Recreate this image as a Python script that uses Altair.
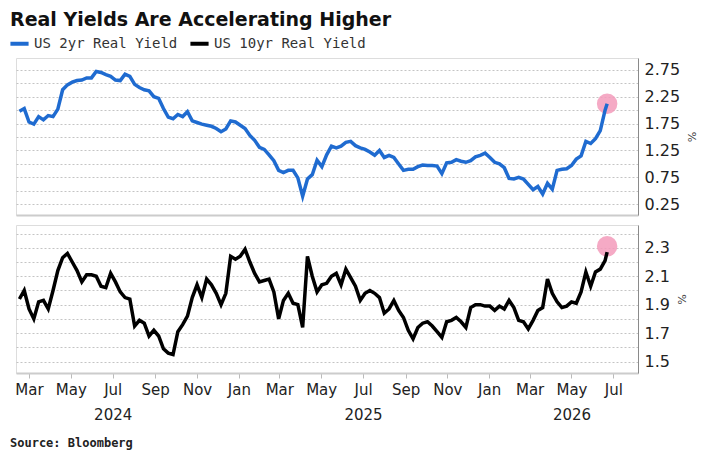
import altair as alt
import pandas as pd

chart_title = "Real Yields Are Accelerating Higher"
source_text = "Source: Bloomberg"
series_names = ["US 2yr Real Yield", "US 10yr Real Yield"]
series_colors = ["#1f6bd0", "#000000"]

# weekly observations (Fridays) from 2024-02-16, plus the last print
week_start = "2024-02-16"
n_weeks = 123
last_date = "2026-06-22"

us2y = [
    1.98, 2.03, 1.78, 1.74, 1.88, 1.82, 1.90, 1.88, 2.02, 2.38,
    2.47, 2.52, 2.55, 2.56, 2.60, 2.60, 2.72, 2.70, 2.66, 2.63,
    2.56, 2.55, 2.67, 2.63, 2.48, 2.42, 2.38, 2.36, 2.25, 2.22,
    2.03, 1.87, 1.84, 1.92, 1.88, 1.97, 1.80, 1.77, 1.74, 1.72,
    1.70, 1.66, 1.60, 1.65, 1.80, 1.78, 1.72, 1.66, 1.53, 1.44,
    1.31, 1.27, 1.17, 1.06, 0.88, 0.84, 0.88, 0.88, 0.74, 0.40,
    0.72, 0.80, 1.07, 0.95, 1.17, 1.33, 1.30, 1.33, 1.40, 1.42,
    1.34, 1.30, 1.27, 1.22, 1.16, 1.25, 1.12, 1.16, 1.12, 1.00,
    0.88, 0.90, 0.90, 0.95, 0.98, 0.97, 0.97, 0.96, 0.82, 1.02,
    1.03, 1.08, 1.05, 1.03, 1.06, 1.13, 1.16, 1.20, 1.12, 1.03,
    1.00, 0.93, 0.73, 0.72, 0.75, 0.72, 0.62, 0.52, 0.58, 0.44,
    0.64, 0.53, 0.88, 0.90, 0.91, 0.97, 1.09, 1.15, 1.42, 1.38,
    1.47, 1.62, 2.00,
    2.12,
]

us10y = [
    1.94, 2.00, 1.87, 1.80, 1.92, 1.93, 1.87, 2.00, 2.14, 2.23,
    2.26, 2.20, 2.14, 2.06, 2.11, 2.11, 2.10, 2.03, 2.02, 2.12,
    2.06, 1.99, 1.95, 1.94, 1.75, 1.79, 1.77, 1.68, 1.72, 1.68,
    1.59, 1.56, 1.55, 1.71, 1.76, 1.82, 1.95, 2.04, 1.95, 2.08,
    2.04, 1.98, 1.90, 1.98, 2.24, 2.22, 2.24, 2.29, 2.20, 2.12,
    2.06, 2.07, 2.08, 1.99, 1.80, 1.93, 1.98, 1.91, 1.90, 1.74,
    2.24, 2.10, 1.99, 2.04, 2.05, 2.10, 2.12, 2.04, 2.15, 2.09,
    2.03, 1.93, 1.98, 2.00, 1.98, 1.95, 1.84, 1.87, 1.93, 1.86,
    1.81, 1.72, 1.66, 1.74, 1.77, 1.78, 1.75, 1.71, 1.67, 1.78,
    1.79, 1.81, 1.78, 1.74, 1.88, 1.90, 1.90, 1.89, 1.89, 1.86,
    1.89, 1.87, 1.93, 1.88, 1.79, 1.78, 1.73, 1.79, 1.86, 1.88,
    2.08, 1.98, 1.92, 1.88, 1.89, 1.92, 1.91, 1.99, 2.13, 2.03,
    2.13, 2.15, 2.21,
    2.27,
]

highlight_values = [2.12, 2.31]

x_tick_months = [(2024, 3), (2024, 5), (2024, 7), (2024, 9), (2024, 11),
                 (2025, 1), (2025, 3), (2025, 5), (2025, 7), (2025, 9), (2025, 11),
                 (2026, 1), (2026, 3), (2026, 5), (2026, 7)]
x_domain = [(2024, 2, 11), (2026, 8, 6)]
top_ticks = [0.25, 0.5, 0.75, 1.0, 1.25, 1.5, 1.75, 2.0, 2.25, 2.5, 2.75]
top_domain = [0.05, 2.97]
bottom_ticks = [1.5, 1.6, 1.7, 1.8, 1.9, 2.0, 2.1, 2.2, 2.3, 2.4]
bottom_domain = [1.42, 2.46]

dates = list(pd.date_range(week_start, periods=n_weeks, freq="7D")) + [pd.Timestamp(last_date)]
df2 = pd.DataFrame({"date": dates, "value": us2y, "series": series_names[0]})
df10 = pd.DataFrame({"date": dates, "value": us10y, "series": series_names[1]})
hl2 = pd.DataFrame({"date": [pd.Timestamp(last_date)], "value": [highlight_values[0]]})
hl10 = pd.DataFrame({"date": [pd.Timestamp(last_date)], "value": [highlight_values[1]]})
src = pd.DataFrame({"t": [source_text]})

W = 622
H_TOP = 157
H_BOT = 148

xscale = alt.Scale(domain=[alt.DateTime(year=y, month=m, date=d) for (y, m, d) in x_domain])
color_scale = alt.Scale(domain=series_names, range=series_colors)
legend = alt.Legend(orient="none", legendX=-8, legendY=-26, direction="horizontal",
                    title=None, symbolType="stroke", symbolStrokeWidth=4, symbolSize=330,
                    labelFont="DejaVu Sans Mono", labelFontSize=14, labelColor="#333333",
                    columnPadding=4, padding=0, labelOffset=3)

grid_kw = dict(grid=True, gridDash=[2, 2], gridColor="#c4c4c4", gridWidth=1)
yaxis_kw = dict(orient="right", ticks=False, domain=True, domainColor="#8a8a8a", domainWidth=1,
                labelFont="DejaVu Sans", labelFontSize=16, labelColor="#222222", labelPadding=6,
                title="%", titleFont="DejaVu Sans", titleFontSize=11, titleFontWeight="normal",
                titleColor="#444444", titleAngle=90, titlePadding=6, labelOverlap=False, **grid_kw)

x_top = alt.X("date:T", scale=xscale,
              axis=alt.Axis(labels=False, ticks=False, grid=False, domainColor="#cccccc",
                            domainWidth=2, title=None))
y_top = alt.Y("value:Q", scale=alt.Scale(domain=top_domain, nice=False, zero=False),
              axis=alt.Axis(values=top_ticks,
                            labelExpr="round(datum.value*100) % 50 == 25 ? format(datum.value, '.2f') : ''",
                            **yaxis_kw))

month_label_expr = (
    "(month(datum.value) == 6 && year(datum.value) < 2026) || (month(datum.value) == 4 && year(datum.value) == 2026)"
    " ? [timeFormat(datum.value, '%b'), timeFormat(datum.value, '%Y')] : timeFormat(datum.value, '%b')"
)
x_bot = alt.X("date:T", scale=xscale,
              axis=alt.Axis(values=[alt.DateTime(year=y, month=m, date=1) for (y, m) in x_tick_months],
                            labelExpr=month_label_expr, labelLineHeight=25,
                            labelFont="DejaVu Sans", labelFontSize=15, labelColor="#222222",
                            labelPadding=4, labelOverlap=False, labelFlush=False,
                            ticks=True, tickColor="#bbbbbb", tickSize=5, grid=False,
                            domainColor="#cccccc", domainWidth=2, title=None))
y_bot = alt.Y("value:Q", scale=alt.Scale(domain=bottom_domain, nice=False, zero=False),
              axis=alt.Axis(values=bottom_ticks,
                            labelExpr="round(datum.value*10) % 2 == 1 ? format(datum.value, '.1f') : ''",
                            **yaxis_kw))

circle_kw = dict(size=420, color="#f39bbb", opacity=0.85)

top = alt.layer(
    alt.Chart(hl2).mark_circle(**circle_kw).encode(x=x_top, y=y_top),
    alt.Chart(df2).mark_line(strokeWidth=3.5).encode(
        x=x_top, y=y_top, color=alt.Color("series:N", scale=color_scale, legend=legend)),
).properties(width=W, height=H_TOP)

bottom = alt.layer(
    alt.Chart(hl10).mark_circle(**circle_kw).encode(x=x_bot, y=y_bot),
    alt.Chart(df10).mark_line(strokeWidth=3.5).encode(
        x=x_bot, y=y_bot, color=alt.Color("series:N", scale=color_scale, legend=legend)),
    alt.Chart(src).mark_text(align="left", baseline="middle", font="DejaVu Sans Mono",
                             fontWeight="bold", fontSize=12, color="#222222").encode(
        text="t:N", x=alt.value(-6), y=alt.value(H_BOT + 70)),
).properties(width=W, height=H_BOT)

chart = alt.vconcat(top, bottom, spacing=8).resolve_scale(color="shared").properties(
    title=alt.TitleParams(chart_title, anchor="start", font="DejaVu Sans", fontSize=19,
                          fontWeight="bold", color="#111111", offset=2, dx=2),
    padding={"left": 0, "top": 3, "right": 0, "bottom": 0},
).configure_view(strokeWidth=0).configure(background="white")

chart.save("out.html", embed_options={"renderer": "svg", "actions": False})
